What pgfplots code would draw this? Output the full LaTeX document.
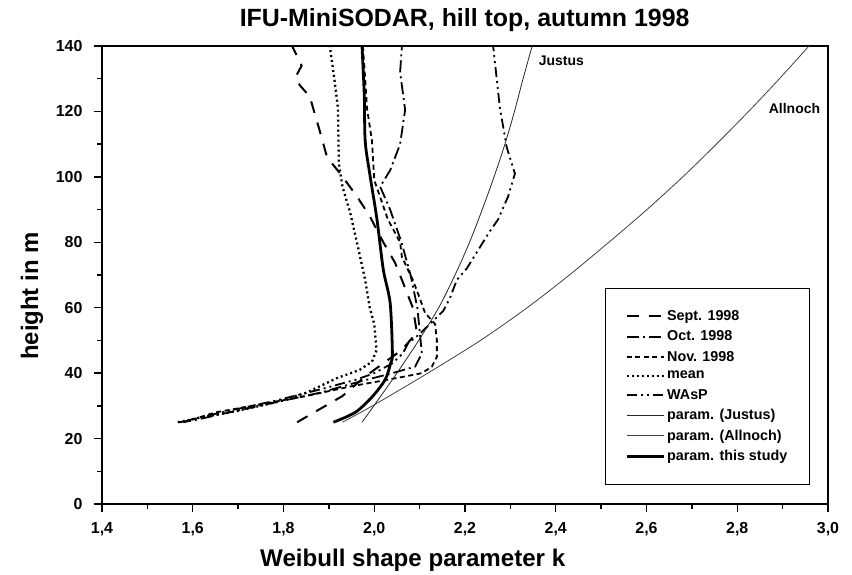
\documentclass[border=0pt]{standalone}
\usepackage{fontspec}
\setmainfont{Liberation Sans}
\usepackage{pgfplots}
\pgfplotsset{compat=1.18}
\begin{document}
\begin{tikzpicture}
\begin{axis}[name=ax,
  scale only axis, width=726bp, height=458bp,
  xmin=1.4, xmax=3.0, ymin=0, ymax=140,
  xtick={1.4,1.6,1.8,2.0,2.2,2.4,2.6,2.8,3.0},
  ytick={0,20,40,60,80,100,120,140},
  minor x tick num=1, minor y tick num=1,
  tick align=outside, tick pos=left,
  major tick length=8bp, minor tick length=4.5bp,
  axis line style={line width=1.6bp},
  every tick/.style={line width=1.3bp, black},
  /pgf/number format/assume math mode=true,
  xticklabel style={yshift=-7bp, /pgf/number format/.cd, fixed, fixed zerofill, precision=1, use comma},
  yticklabel style={xshift=-8bp},
  tick label style={font=\fontsize{16}{18}\selectfont\bfseries},
  title={IFU-MiniSODAR, hill top, autumn 1998},
  title style={font=\fontsize{25}{28}\selectfont\bfseries, at={(0.4995,1)}, anchor=base, yshift=14bp},
  xlabel={Weibull shape parameter k},
  xlabel style={font=\fontsize{24.2}{28}\selectfont\bfseries, at={(0.428,0)}, anchor=base, yshift=-62bp},
  ylabel={height in m},
  ylabel style={font=\fontsize{24}{28}\selectfont\bfseries, at={(-0.0964,0.454)}, anchor=center},
  legend image code/.code={\draw[#1] (0bp,0bp) -- (37bp,0bp);},
  legend style={at={(axis cs:2.508,66)}, anchor=north west, draw=black, line width=1.2bp,
    inner xsep=20bp, inner ysep=20bp, row sep=4.7bp, font=\fontsize{14.4}{16}\selectfont\bfseries,
    cells={anchor=west}},
  legend cell align=left,
]
% Sept. 1998
\addplot[black, line width=2bp, dash pattern=on 12bp off 10bp] coordinates {
(1.83,25) (1.88,29) (1.93,33) (1.98,39) (2.02,43) (2.06,47) (2.094,52.4) (2.085,60)
(2.061,68.5) (2.046,73.7) (2.02,80) (1.99,88) (1.962,94) (1.925,101) (1.896,106)
(1.88,114) (1.858,124.5) (1.836,128) (1.827,130.6) (1.84,134) (1.819,140)};
\addlegendentry{Sept. 1998}
% Oct. 1998
\addplot[black, line width=1.8bp, dash pattern=on 12bp off 4bp on 2bp off 4bp] coordinates {
(1.57,25) (1.6,25.5) (1.68,28) (1.78,31) (1.88,34) (1.97,37.5) (2.04,40) (2.09,42)
(2.105,46) (2.1,53) (2.095,60) (2.08,70) (2.06,80) (2.035,90) (2.013,97) (2.035,102)
(2.057,110) (2.068,120.5) (2.057,132) (2.061,140)};
\addlegendentry{Oct. 1998}
% Nov. 1998
\addplot[black, line width=1.8bp, dash pattern=on 5bp off 3.5bp] coordinates {
(1.58,25) (1.65,28) (1.75,30.5) (1.85,33) (1.95,36) (2.03,38) (2.068,39) (2.105,40)
(2.127,42) (2.138,45) (2.138,50) (2.134,55) (2.112,58.4) (2.10,63) (2.085,68.5)
(2.061,75.5) (2.057,80) (2.03,87) (2.0,99) (1.995,111) (1.984,121) (1.98,130) (1.975,140)};
\addlegendentry{Nov. 1998}
% mean
\addplot[black, line width=2.3bp, dash pattern=on 2bp off 3bp] coordinates {
(1.567,25) (1.62,26.5) (1.70,28.5) (1.78,31) (1.85,34) (1.918,38.5) (1.968,41)
(1.995,43.5) (2.005,47) (2.0,55) (1.99,60) (1.98,68.5) (1.964,78.6) (1.947,89)
(1.93,97) (1.922,104) (1.92,121) (1.912,130) (1.902,140)};
\addlegendentry{mean}
% WAsP
\addplot[black, line width=1.8bp, dash pattern=on 10bp off 4bp on 2bp off 4bp on 2bp off 4bp] coordinates {
(1.58,25) (1.6,26) (1.68,28.5) (1.78,31.5) (1.88,35) (1.96,38) (2.0,40) (2.04,43)
(2.063,46) (2.074,49) (2.10,52) (2.13,56) (2.152,59) (2.167,63) (2.182,68.5) (2.204,72)
(2.253,83) (2.273,87) (2.295,94) (2.31,101) (2.292,109) (2.277,121) (2.262,140)};
\addlegendentry{WAsP}
% param. (Justus)
\addplot[black!85, line width=0.8bp, smooth] coordinates {
(1.973,25) (1.999,30) (2.05,40) (2.098,50) (2.142,60) (2.178,70) (2.21,80) (2.238,90)
(2.264,100) (2.288,110) (2.309,120) (2.328,130) (2.348,140)};
\addlegendentry{param. (Justus)}
% param. (Allnoch)
\addplot[black!75, line width=0.8bp, smooth] coordinates {
(1.93,25) (1.996,30) (2.118,40) (2.234,50) (2.337,60) (2.43,70) (2.517,80) (2.601,90)
(2.68,100) (2.754,110) (2.825,120) (2.893,130) (2.958,140)};
\addlegendentry{param. (Allnoch)}
% param. this study
\addplot[black, line width=2.8bp, smooth] coordinates {
(1.91,25) (1.958,28) (1.995,32.7) (2.024,38) (2.036,43) (2.04,46) (2.035,61.5)
(2.02,71.6) (2.006,87) (1.99,101) (1.98,111) (1.978,125) (1.973,140)};
\addlegendentry{param. this study}
\node[anchor=west, font=\fontsize{14}{16}\selectfont\bfseries] at (axis cs:2.355,135.5) {Justus};
\node[anchor=west, font=\fontsize{14}{16}\selectfont\bfseries] at (axis cs:2.862,121) {Allnoch};
\end{axis}
\pgfresetboundingbox
\path[use as bounding box] ([shift={(-102bp,-71bp)}]ax.south west) rectangle ([shift={(24bp,46bp)}]ax.north east);
\end{tikzpicture}
\end{document}
